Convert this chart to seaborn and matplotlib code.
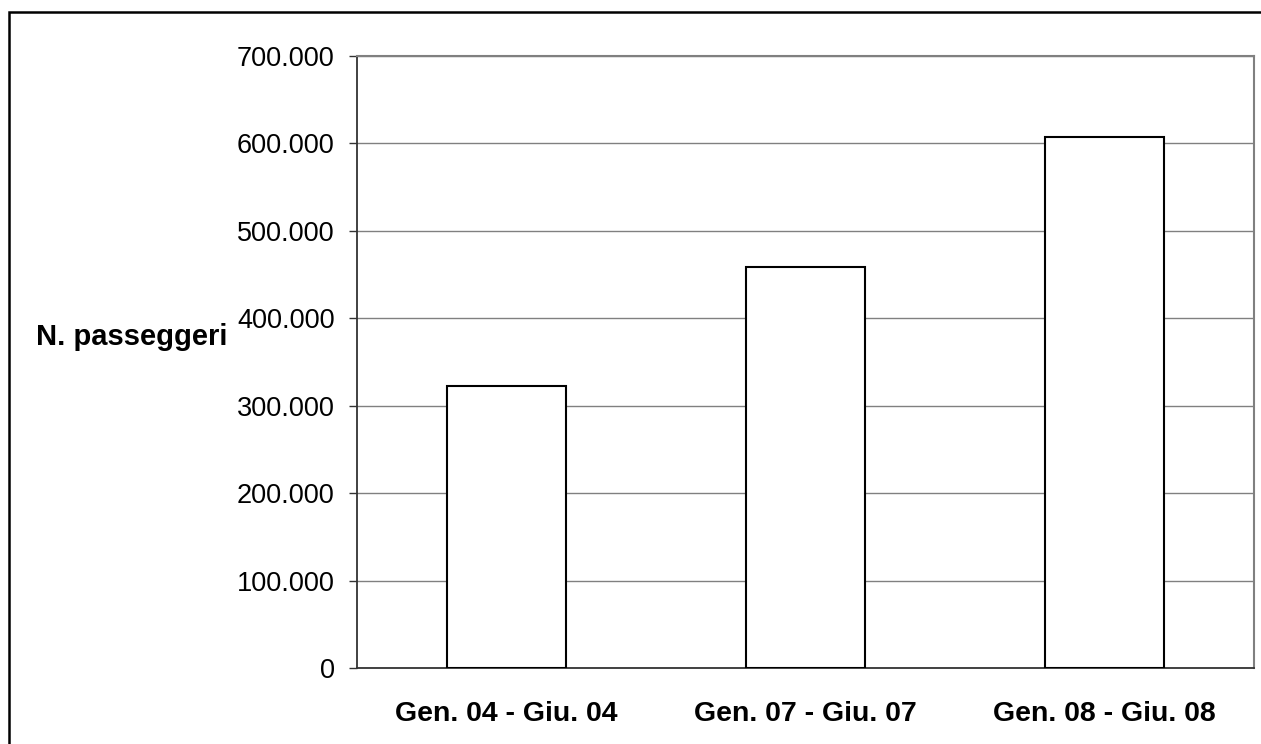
import matplotlib
matplotlib.use('Agg')
import matplotlib.pyplot as plt
import matplotlib.ticker as mticker
import seaborn as sns
import pandas as pd

# Values
periods = ['Gen. 04 - Giu. 04', 'Gen. 07 - Giu. 07', 'Gen. 08 - Giu. 08']
passengers = [322000, 458500, 607000]
y_ticks = [0, 100000, 200000, 300000, 400000, 500000, 600000, 700000]

df = pd.DataFrame({'Periodo': periods, 'Passeggeri': passengers})

sns.set_style('white')
plt.rcParams['font.family'] = ['Liberation Sans', 'DejaVu Sans']
plt.rcParams['text.color'] = 'black'
plt.rcParams['xtick.labelcolor'] = 'black'
plt.rcParams['ytick.labelcolor'] = 'black'

fig = plt.figure(figsize=(12.61, 7.44), dpi=100)
ax = fig.add_axes([357 / 1261, 76 / 744, 897 / 1261, 612 / 744])

sns.barplot(data=df, x='Periodo', y='Passeggeri', color='white',
            edgecolor='black', linewidth=1.5, width=0.395, ax=ax, zorder=3)

ax.set_ylim(0, 700000)
ax.set_xlim(-0.5, 2.5)
ax.set_yticks(y_ticks)
ax.yaxis.set_major_formatter(mticker.FuncFormatter(
    lambda v, p: f'{int(v):,}'.replace(',', '.')))
ax.grid(axis='y', color='#808080', linewidth=1.0, zorder=0)
ax.set_axisbelow(True)

# category boundary ticks on x axis
ax.set_xticks([0, 1, 2])
ax.set_xticklabels(periods, fontsize=20.5, fontweight='bold')
ax.set_xticks([-0.5, 0.5, 1.5, 2.5], minor=True)
ax.tick_params(axis='x', which='major', length=0, pad=24)
ax.tick_params(axis='x', which='minor', length=6, width=1, color='#333333', direction='out')
ax.tick_params(axis='y', length=6, width=1, color='#333333', labelsize=19.5, pad=10,
               direction='out', left=True)

for s in ['top', 'right']:
    ax.spines[s].set_color('#808080')
    ax.spines[s].set_linewidth(1.5)
for s in ['left', 'bottom']:
    ax.spines[s].set_color('#333333')
    ax.spines[s].set_linewidth(1.3)

ax.set_xlabel('')
ax.set_ylabel('')
fig.text(36 / 1261, 1 - 337 / 744, 'N. passeggeri', fontsize=21, fontweight='bold',
         ha='left', va='center')

# outer chart frame
frame = plt.Rectangle((9 / 1261, -0.05), 1.1, 1 - 12 / 744 + 0.05, transform=fig.transFigure,
                      fill=False, edgecolor='black', linewidth=1.8)
fig.patches.append(frame)

fig.savefig('out.png', dpi=100)
